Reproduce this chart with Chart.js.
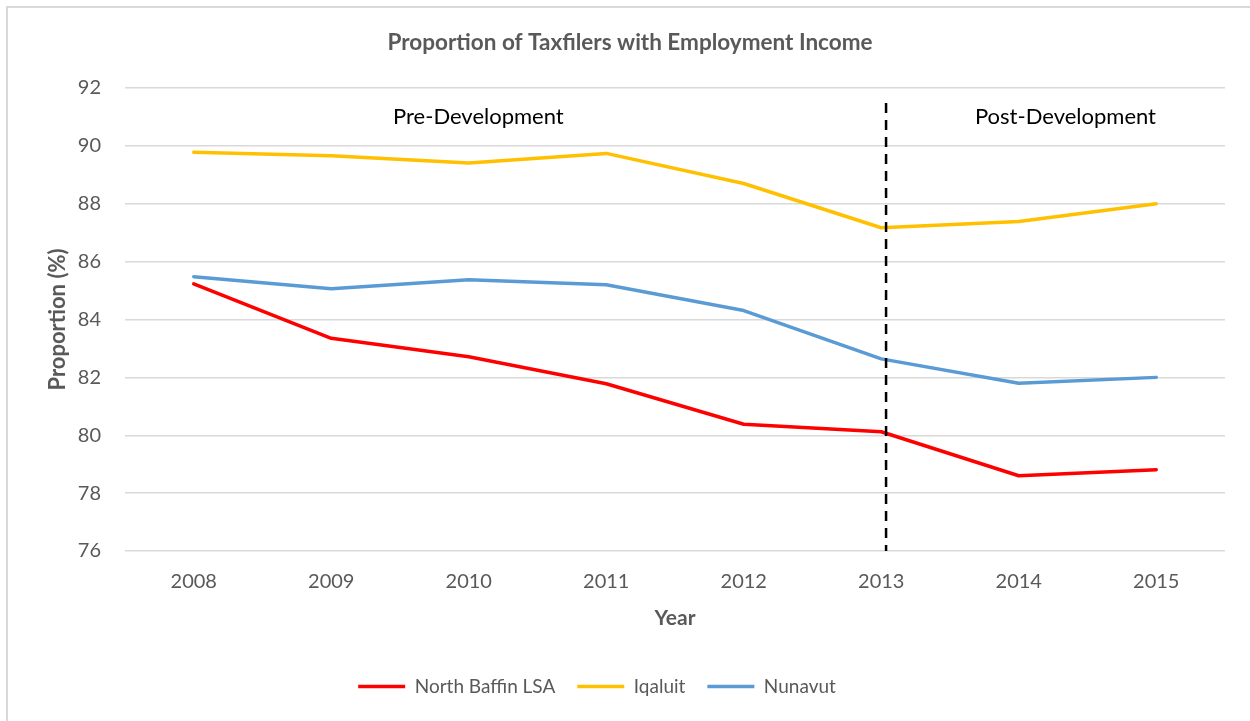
<!DOCTYPE html>
<html>
<head>
<meta charset="utf-8">
<script src="https://cdn.jsdelivr.net/npm/chart.js@4.4.1/dist/chart.umd.min.js"></script>
<style>
  html, body { margin: 0; padding: 0; background: #fff; }
  canvas { display: block; }
</style>
</head>
<body>
<canvas id="taxfilers" width="1250" height="721"></canvas>
<script>
// employment income share by region, per tax year
const years = ['2008', '2009', '2010', '2011', '2012', '2013', '2014', '2015'];
const northBaffin = [85.23, 83.35, 82.71, 81.78, 80.38, 80.12, 78.60, 78.81];
const iqaluit = [89.78, 89.66, 89.41, 89.74, 88.70, 87.17, 87.39, 88.00];
const nunavut = [85.48, 85.06, 85.37, 85.20, 84.31, 82.64, 81.80, 82.00];
const yTicks = [76, 78, 80, 82, 84, 86, 88, 90, 92];

// development phases, split just after the 2013 point
const phaseLabels = ['Pre-Development', 'Post-Development'];
const phaseLabelX = [2.07, 6.34];
const splitAt = 5.035;

const FONT = 'Lato, "Open Sans", sans-serif';
const GREY = '#595959';

Chart.defaults.font.family = FONT;
Chart.defaults.color = GREY;

const frame = {
    id: 'frame',
    beforeDraw(chart) {
        const ctx = chart.ctx;
        ctx.save();
        ctx.fillStyle = '#fff';
        ctx.fillRect(0, 0, chart.width, chart.height);
        ctx.strokeStyle = '#d9d9d9';
        ctx.lineWidth = 2;
        ctx.strokeRect(7, 7, chart.width + 20, chart.height + 20);
        ctx.restore();
    }
};

// title sits a little right of centre, legend a little left
const nudge = {
    id: 'nudge',
    afterLayout(chart) {
        chart.titleBlock.left += 17.5;
        chart.titleBlock.right += 17.5;
        chart.legend.left -= 15.5;
        chart.legend.right -= 15.5;
    }
};

const phases = {
    id: 'phases',
    afterDatasetsDraw(chart) {
        const {ctx, scales: {x, y}} = chart;
        ctx.save();
        // dashed divider
        const px = x.getPixelForValue(splitAt);
        ctx.strokeStyle = '#000';
        ctx.lineWidth = 2.5;
        ctx.setLineDash([10, 7]);
        ctx.beginPath();
        ctx.moveTo(px, y.getPixelForValue(91.48));
        ctx.lineTo(px, y.getPixelForValue(76));
        ctx.stroke();
        ctx.setLineDash([]);
        // phase names
        ctx.fillStyle = '#000';
        ctx.font = '22px ' + FONT;
        ctx.textAlign = 'center';
        ctx.textBaseline = 'middle';
        phaseLabels.forEach((txt, i) => {
            ctx.fillText(txt, x.getPixelForValue(phaseLabelX[i]), y.getPixelForValue(91.0));
        });
        ctx.restore();
    }
};

const lineStyle = (label, data, color) => ({
    label: label,
    data: data,
    borderColor: color,
    backgroundColor: color,
    borderWidth: 3.5,
    borderCapStyle: 'round',
    borderJoinStyle: 'round',
    pointRadius: 0,
    pointHoverRadius: 0,
    tension: 0,
    fill: false
});

new Chart(document.getElementById('taxfilers'), {
    type: 'line',
    data: {
        labels: years,
        datasets: [
            lineStyle('North Baffin LSA', northBaffin, '#ff0000'),
            lineStyle('Iqaluit', iqaluit, '#ffc000'),
            lineStyle('Nunavut', nunavut, '#5b9bd5')
        ]
    },
    plugins: [frame, nudge, phases],
    options: {
        responsive: false,
        animation: false,
        events: [],
        layout: { padding: { left: 0, right: 25, top: 0, bottom: 15 } },
        plugins: {
            title: {
                display: true,
                text: 'Proportion of Taxfilers with Employment Income',
                color: GREY,
                font: { size: 22.5, weight: 'bold' },
                padding: { top: 29, bottom: 32 }
            },
            legend: {
                position: 'bottom',
                labels: {
                    usePointStyle: true,
                    pointStyle: 'line',
                    pointStyleWidth: 47,
                    color: GREY,
                    font: { size: 19 },
                    padding: 22
                }
            },
            tooltip: { enabled: false }
        },
        scales: {
            x: {
                offset: true,
                grid: { display: false, drawTicks: false },
                border: { display: false },
                ticks: { color: GREY, font: { size: 20 }, padding: 19 },
                title: {
                    display: true,
                    text: 'Year',
                    color: GREY,
                    font: { size: 21, weight: 'bold' },
                    padding: { top: 0, bottom: 24 }
                },
                afterFit(scale) { scale.height = 104; }
            },
            y: {
                min: 76,
                max: 92,
                afterBuildTicks(scale) { scale.ticks = yTicks.map(v => ({ value: v })); },
                grid: { color: '#d9d9d9', lineWidth: 1.5, drawTicks: false },
                border: { display: false },
                ticks: { color: GREY, font: { size: 20 }, padding: 24 },
                title: {
                    display: true,
                    text: 'Proportion (%)',
                    color: GREY,
                    font: { size: 22, weight: 'bold' },
                    padding: { top: 45, bottom: 0 }
                },
                afterFit(scale) { scale.width = 125; }
            }
        }
    }
});
</script>
</body>
</html>
